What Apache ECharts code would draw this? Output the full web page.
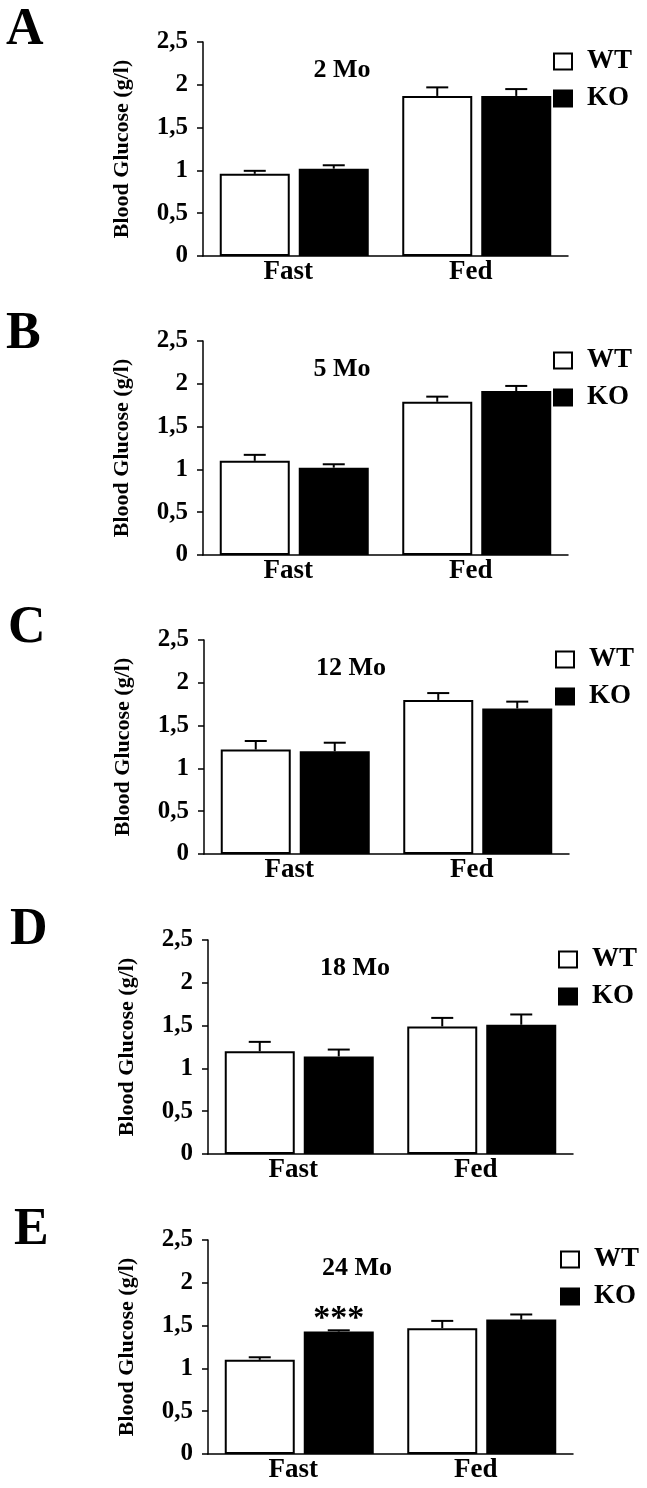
<!DOCTYPE html>
<html>
<head>
<meta charset="utf-8">
<script src="https://cdn.jsdelivr.net/npm/echarts@6/dist/echarts.min.js"></script>
<style>
html,body{margin:0;padding:0;background:#fff;}
#chart{width:647px;height:1488px;}
</style>
</head>
<body>
<div id="chart"></div>
<script>
// ---- data ----
const panelLetters = ['A', 'B', 'C', 'D', 'E'];
const panelTitles = ['2 Mo', '5 Mo', '12 Mo', '18 Mo', '24 Mo'];
const categories = ['Fast', 'Fed'];
const seriesNames = ['WT', 'KO'];
const yTickValues = [0, 0.5, 1, 1.5, 2, 2.5];
// means per panel: [Fast, Fed]
const wtMeans = [[0.96, 1.87], [1.10, 1.79], [1.22, 1.80], [1.20, 1.49], [1.10, 1.47]];
const wtErrors = [[0.035, 0.10], [0.07, 0.06], [0.10, 0.08], [0.11, 0.10], [0.03, 0.085]];
const koMeans = [[1.02, 1.87], [1.02, 1.915], [1.20, 1.70], [1.14, 1.51], [1.43, 1.57]];
const koErrors = [[0.04, 0.08], [0.04, 0.06], [0.10, 0.08], [0.08, 0.12], [0.015, 0.06]];
const koSignificance = [['', ''], ['', ''], ['', ''], ['', ''], ['***', '']];
const wtSignificance = [['', ''], ['', ''], ['', ''], ['', ''], ['', '']];

// ---- layout (styling only) ----
const FONT = '"Liberation Serif", "Times New Roman", serif';
const gridTops = [42, 341, 640, 940, 1240];
const gridLefts = [203, 203, 204, 208, 208];
const gridH = 214, gridW = 365;
const BAR_W = 70, BAR_GAP = 9;
const legendLefts = [548, 548, 550, 553, 555];
const titleCenters = [342, 342, 351, 355, 357];
const letterTops = [5, 309, 603, 905, 1205];
const letterLefts = [6, 6, 8, 10, 14];

const chart = echarts.init(document.getElementById('chart'), null, {renderer: 'canvas'});

const grid = [], xAxis = [], yAxis = [], series = [], legend = [], title = [], graphic = [];

function errRender(sign) {
  return function (params, api) {
    const cat = api.value(0), mean = api.value(1), err = api.value(2);
    const sig = api.value(3);
    const off = sign * (BAR_W + BAR_GAP) / 2;
    const p0 = api.coord([cat, mean]);
    const p1 = api.coord([cat, mean + err]);
    const x = p0[0] + off;
    const children = [
      {type: 'line', shape: {x1: x, y1: p0[1], x2: x, y2: p1[1]}, style: {stroke: '#000', lineWidth: 2}},
      {type: 'line', shape: {x1: x - 11, y1: p1[1], x2: x + 11, y2: p1[1]}, style: {stroke: '#000', lineWidth: 2}}
    ];
    if (sig) {
      children.push({type: 'text', style: {text: sig, x: x, y: p1[1] + 6, align: 'center', verticalAlign: 'bottom',
        font: 'bold 34px ' + FONT, fill: '#000'}});
    }
    return {type: 'group', children: children};
  };
}

panelLetters.forEach((letter, i) => {
  grid.push({left: gridLefts[i], top: gridTops[i], width: gridW, height: gridH, containLabel: false});
  xAxis.push({
    gridIndex: i, type: 'category', data: categories,
    axisLine: {lineStyle: {color: '#000', width: 1.5}},
    axisTick: {show: false},
    axisLabel: {color: '#000', fontFamily: FONT, fontWeight: 'bold', fontSize: 27, margin: 3,
      padding: [0, 12, 0, 0]}
  });
  yAxis.push({
    gridIndex: i, type: 'value', min: yTickValues[0], max: yTickValues[yTickValues.length - 1], interval: 0.5,
    name: 'Blood Glucose (g/l)', nameLocation: 'middle', nameGap: 70,
    nameTextStyle: {color: '#000', fontFamily: FONT, fontWeight: 'bold', fontSize: 22},
    axisLine: {show: true, lineStyle: {color: '#000', width: 1.5}},
    axisTick: {show: true, length: 6, lineStyle: {color: '#000', width: 1.5}},
    splitLine: {show: false},
    axisLabel: {color: '#000', fontFamily: FONT, fontWeight: 'bold', fontSize: 25, margin: 15,
      formatter: v => String(v).replace('.', ',')}
  });
  series.push({
    name: seriesNames[0], type: 'bar', xAxisIndex: i, yAxisIndex: i,
    data: wtMeans[i], barWidth: BAR_W, barGap: (BAR_GAP / BAR_W * 100) + '%',
    itemStyle: {color: '#fff', borderColor: '#000', borderWidth: 2}, z: 2
  });
  series.push({
    name: seriesNames[1], type: 'bar', xAxisIndex: i, yAxisIndex: i,
    data: koMeans[i], barWidth: BAR_W, barGap: (BAR_GAP / BAR_W * 100) + '%',
    itemStyle: {color: '#000', borderColor: '#000', borderWidth: 2}, z: 2
  });
  series.push({
    type: 'custom', xAxisIndex: i, yAxisIndex: i, z: 1,
    renderItem: errRender(-1), silent: true,
    data: categories.map((c, k) => [k, wtMeans[i][k], wtErrors[i][k], wtSignificance[i][k]])
  });
  series.push({
    type: 'custom', xAxisIndex: i, yAxisIndex: i, z: 1,
    renderItem: errRender(1), silent: true,
    data: categories.map((c, k) => [k, koMeans[i][k], koErrors[i][k], koSignificance[i][k]])
  });
  legend.push({
    data: seriesNames, orient: 'vertical', left: legendLefts[i], top: gridTops[i] + 1,
    icon: 'rect', itemWidth: 18, itemHeight: 16, itemGap: 10,
    textStyle: {color: '#000', fontFamily: FONT, fontWeight: 'bold', fontSize: 27, lineHeight: 20,
      padding: [6, 0, 0, 10]},
    selectedMode: false
  });
  title.push({
    text: panelTitles[i], left: titleCenters[i], top: gridTops[i] + 15, textAlign: 'center', padding: 0,
    textStyle: {color: '#000', fontFamily: FONT, fontWeight: 'bold', fontSize: 26}
  });
  graphic.push({
    type: 'text', left: letterLefts[i], top: letterTops[i],
    style: {text: letter, font: 'bold 52px ' + FONT, fill: '#000'}
  });
});

chart.setOption({
  animation: false,
  backgroundColor: '#fff',
  grid, xAxis, yAxis, series, legend, title, graphic
});
</script>
</body>
</html>
